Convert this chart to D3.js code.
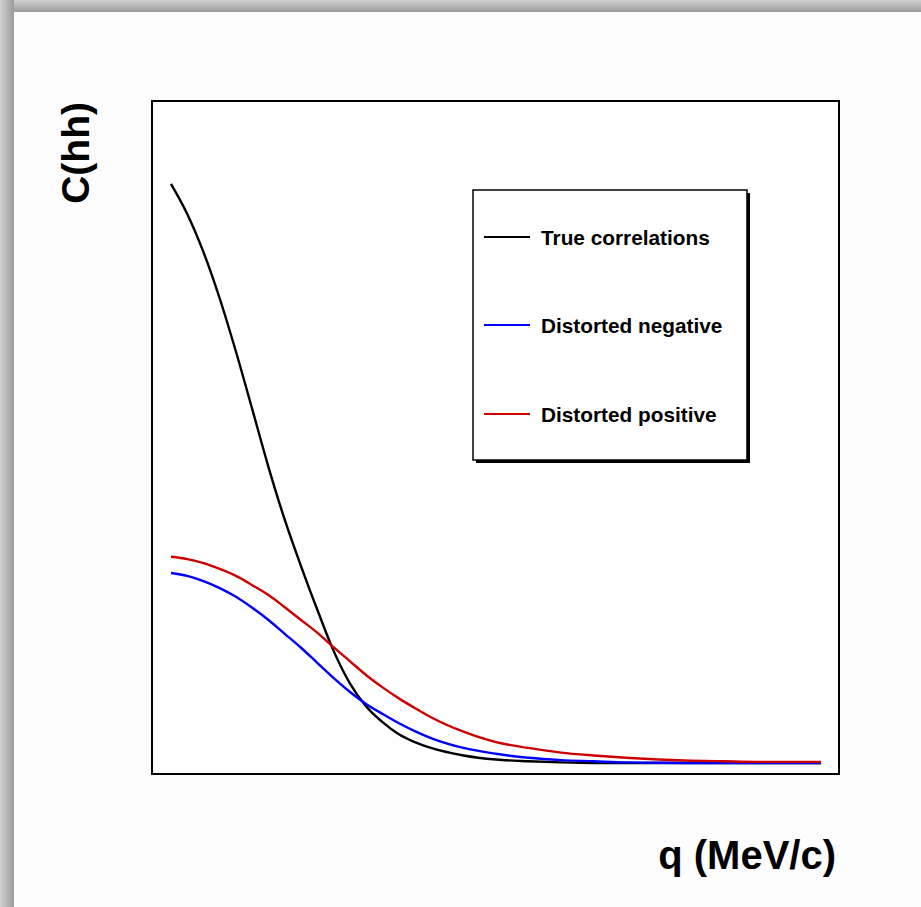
<!DOCTYPE html>
<html>
<head>
<meta charset="utf-8">
<script src="https://cdn.jsdelivr.net/npm/d3@7"></script>
<style>
  body { margin: 0; background: #fdfdfd; }
  svg { display: block; }
  text { font-family: "Liberation Sans", Arial, Helvetica, sans-serif; font-weight: bold; }
</style>
</head>
<body>
<div id="chart"></div>
<script>
// q (MeV/c) sample points, shared by all three curves
const qValues = [0, 2.5, 5, 7.5, 10, 12.5, 15, 17.5, 20, 22.5, 25, 27.5, 30, 32.5, 35, 37.5, 40,
  45, 50, 55, 60, 65, 70, 75, 80, 85, 90, 95, 100];

// C(hh)
const trueCorr = [2.000, 1.948, 1.882, 1.802, 1.710, 1.611, 1.511, 1.420, 1.340, 1.265, 1.194, 1.138, 1.098, 1.071, 1.050, 1.036, 1.026,
  1.013, 1.006, 1.003, 1.001, 1.000, 1.000, 1.000, 1.000, 1.000, 1.000, 1.000, 1.000];
const distNeg = [1.328, 1.323, 1.314, 1.302, 1.287, 1.268, 1.247, 1.223, 1.199, 1.173, 1.147, 1.123, 1.102, 1.085, 1.069, 1.055, 1.043,
  1.026, 1.016, 1.009, 1.005, 1.003, 1.001, 1.0005, 1.000, 1.000, 1.000, 1.000, 1.000];
const distPos = [1.356, 1.352, 1.345, 1.335, 1.323, 1.307, 1.290, 1.269, 1.247, 1.225, 1.200, 1.176, 1.152, 1.131, 1.112, 1.095, 1.079,
  1.054, 1.036, 1.026, 1.018, 1.013, 1.009, 1.006, 1.004, 1.003, 1.002, 1.002, 1.002];

const seriesNames = ["True correlations", "Distorted negative", "Distorted positive"];
const seriesColors = ["#000000", "#0000ff", "#cc0000"];
const xRange = [-2.92, 102.77];
const yRange = [0.981, 2.143];

const width = 921, height = 907;
const frame = { left: 152, right: 839, top: 101, bottom: 774 };

const svg = d3.select("#chart").append("svg")
  .attr("width", width)
  .attr("height", height);

// canvas bevel (top and left)
const defs = svg.append("defs");
const gTop = defs.append("linearGradient").attr("id", "bevTop")
  .attr("x1", 0).attr("y1", 0).attr("x2", 0).attr("y2", 1);
gTop.append("stop").attr("offset", "0%").attr("stop-color", "#d2d2d2");
gTop.append("stop").attr("offset", "100%").attr("stop-color", "#9a9a9a");
const gLeft = defs.append("linearGradient").attr("id", "bevLeft")
  .attr("x1", 0).attr("y1", 0).attr("x2", 1).attr("y2", 0);
gLeft.append("stop").attr("offset", "0%").attr("stop-color", "#d2d2d2");
gLeft.append("stop").attr("offset", "100%").attr("stop-color", "#9a9a9a");

svg.append("rect").attr("x", 0).attr("y", 0).attr("width", width).attr("height", 12)
  .attr("fill", "url(#bevTop)");
svg.append("rect").attr("x", 0).attr("y", 0).attr("width", 14).attr("height", height)
  .attr("fill", "url(#bevLeft)");

const x = d3.scaleLinear().domain(xRange).range([frame.left, frame.right]);
const y = d3.scaleLinear().domain(yRange).range([frame.bottom, frame.top]);

// plot frame
svg.append("rect")
  .attr("x", frame.left).attr("y", frame.top)
  .attr("width", frame.right - frame.left)
  .attr("height", frame.bottom - frame.top)
  .attr("fill", "#ffffff")
  .attr("stroke", "#000")
  .attr("stroke-width", 2);

const line = d3.line()
  .x(d => x(d[0]))
  .y(d => y(d[1]))
  .curve(d3.curveMonotoneX);

[trueCorr, distNeg, distPos].forEach((vals, i) => {
  svg.append("path")
    .datum(qValues.map((q, j) => [q, vals[j]]))
    .attr("d", line)
    .attr("fill", "none")
    .attr("stroke", seriesColors[i])
    .attr("stroke-width", 2.4);
});

// legend box with shadow
const leg = { x: 473, y: 190, w: 274, h: 270 };
svg.append("rect")
  .attr("x", leg.x + 3).attr("y", leg.y + 3)
  .attr("width", leg.w).attr("height", leg.h)
  .attr("fill", "#000");
svg.append("rect")
  .attr("x", leg.x).attr("y", leg.y)
  .attr("width", leg.w).attr("height", leg.h)
  .attr("fill", "#fff")
  .attr("stroke", "#000")
  .attr("stroke-width", 1.5);

const legRows = [237, 325, 414];
seriesNames.forEach((name, i) => {
  svg.append("line")
    .attr("x1", 484).attr("x2", 530)
    .attr("y1", legRows[i]).attr("y2", legRows[i])
    .attr("stroke", seriesColors[i])
    .attr("stroke-width", 2);
  svg.append("text")
    .attr("x", 541).attr("y", legRows[i] + 7.5)
    .attr("font-size", 20.8)
    .attr("fill", "#000")
    .text(name);
});

// axis titles
svg.append("text")
  .attr("transform", "translate(89,102) rotate(-90)")
  .attr("text-anchor", "end")
  .attr("font-size", 39)
  .attr("fill", "#000")
  .text("C(hh)");

svg.append("text")
  .attr("x", 836).attr("y", 869)
  .attr("text-anchor", "end")
  .attr("font-size", 40)
  .attr("fill", "#000")
  .text("q (MeV/c)");
</script>
</body>
</html>
